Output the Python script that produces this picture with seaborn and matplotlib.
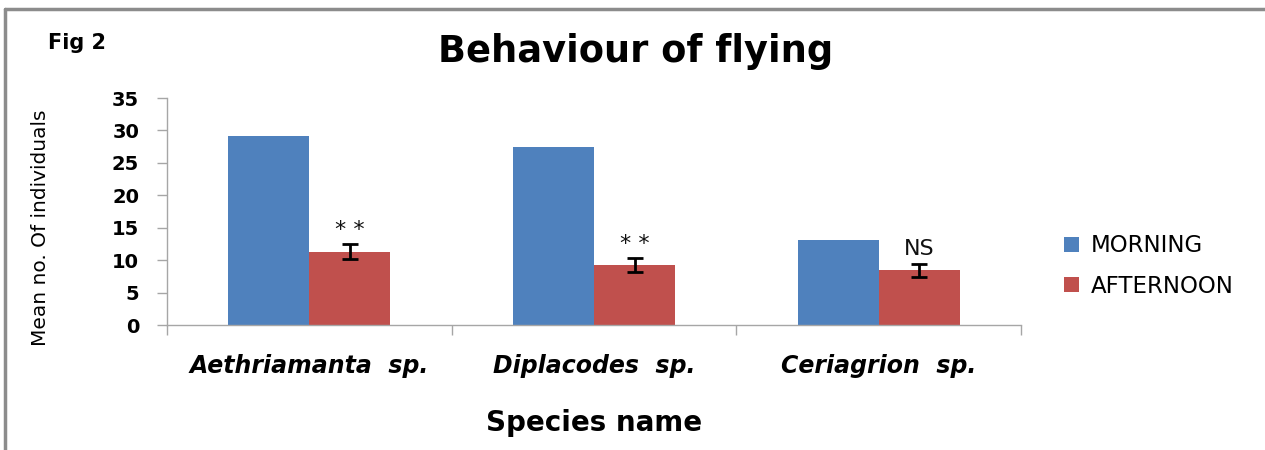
import matplotlib
matplotlib.use("Agg")
import matplotlib.pyplot as plt
import seaborn as sns
import pandas as pd
import numpy as np
from matplotlib.lines import Line2D

# ---- data ----
species = ["Aethriamanta  sp.", "Diplacodes  sp.", "Ceriagrion  sp."]
periods = ["MORNING", "AFTERNOON"]
morning = [29.2, 27.4, 13.2]
afternoon = [11.35, 9.3, 8.5]
afternoon_err = [1.1, 1.1, 1.0]
signif = ["* *", "* *", "NS"]
yticks = [0, 5, 10, 15, 20, 25, 30, 35]

colors = ["#4F81BD", "#C0504D"]

df = pd.DataFrame({
    "species": species * 2,
    "period": [periods[0]] * 3 + [periods[1]] * 3,
    "value": morning + afternoon,
})

sns.set_theme(style="white")
plt.rcParams["font.family"] = ["DejaVu Sans"]
plt.rcParams["text.color"] = "black"
plt.rcParams["axes.labelcolor"] = "black"
plt.rcParams["xtick.labelcolor"] = "black"
plt.rcParams["ytick.labelcolor"] = "black"

fig = plt.figure(figsize=(12.65, 4.5), dpi=100)
ax = fig.add_axes([167 / 1265, 1 - 325.3 / 450, (1021 - 167) / 1265, 227.3 / 450])

sns.barplot(data=df, x="species", y="value", hue="period", order=species,
            hue_order=periods, palette=colors, width=0.57, gap=0,
            saturation=1, errorbar=None, edgecolor="none", ax=ax,
            legend=True)

# error bars + significance marks on afternoon bars
n = len(species)
aft_patches = [p for p in ax.patches if p.get_height() > 0][n:2 * n]
for p, val, err, lab in zip(aft_patches, afternoon, afternoon_err, signif):
    xc = p.get_x() + p.get_width() / 2
    ax.errorbar(xc, val, yerr=err, fmt="none", ecolor="black",
                elinewidth=2, capsize=6, capthick=2, zorder=5)
    ax.annotate(lab, (xc, val + err), xytext=(0, 3), textcoords="offset points",
                ha="center", va="bottom", fontsize=16, color="#111111")

ax.set_ylim(0, 35)
ax.set_yticks(yticks)
ax.set_yticklabels([str(t) for t in yticks], fontsize=14, fontweight="bold")
ax.set_xlim(-0.5, n - 0.5)

# category ticks at boundaries, labels at centers
ax.set_xticks(np.arange(-0.5, n, 1.0))
ax.set_xticklabels([""] * (n + 1))
ax.set_xticks(np.arange(n), minor=True)
ax.set_xticklabels(species, minor=True, fontsize=17, fontstyle="italic",
                   fontweight="semibold")
ax.tick_params(axis="x", which="major", length=7, width=1, color="#a6a6a6",
               direction="out", bottom=True)
ax.tick_params(axis="x", which="minor", length=0, pad=21)
ax.tick_params(axis="y", length=7, width=1, color="#a6a6a6", direction="out",
               left=True, pad=13)

for s in ["top", "right"]:
    ax.spines[s].set_visible(False)
for s in ["left", "bottom"]:
    ax.spines[s].set_color("#a6a6a6")
    ax.spines[s].set_linewidth(1)

ax.set_xlabel("Species name", fontsize=20, fontweight="bold")
ax.set_ylabel("Mean no. Of individuals", fontsize=14.5)
ax.yaxis.set_label_coords(-0.137, 0.43)
ax.xaxis.set_label_coords(0.5, -0.37)

ax.legend(loc="center left", bbox_to_anchor=((1043 - 167) / 854, (325.3 - 266) / 227.3),
          frameon=False, fontsize=16.5, handlelength=0.65, handleheight=0.65,
          handletextpad=0.55, labelspacing=0.75)

fig.text(636 / 1265, 1 - 52 / 450, "Behaviour of flying", ha="center", va="center",
         fontsize=26.5, fontweight="bold")
fig.text(48 / 1265, 1 - 43 / 450, "Fig 2", ha="left", va="center",
         fontsize=15, fontweight="bold")

# outer grey frame (top & left)
fig.add_artist(Line2D([5 / 1265, 5 / 1265], [0, 1 - 9 / 450], transform=fig.transFigure,
                      color="#8c8c8c", lw=2.5))
fig.add_artist(Line2D([5 / 1265, 1], [1 - 9 / 450, 1 - 9 / 450], transform=fig.transFigure,
                      color="#8c8c8c", lw=2.5))

fig.savefig("out.png", dpi=100, facecolor="white")
